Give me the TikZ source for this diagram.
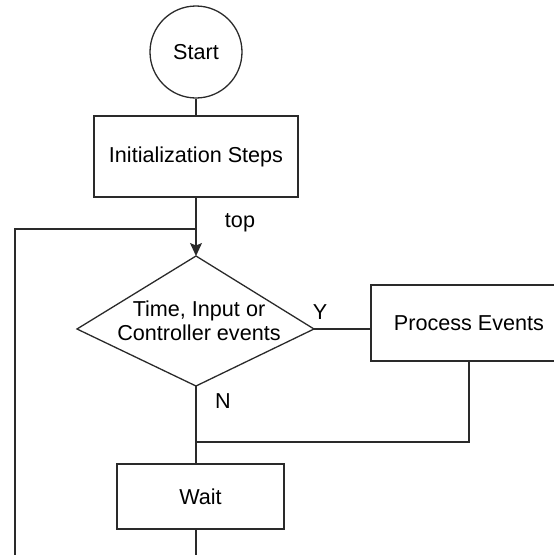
\documentclass[tikz,border=0pt]{standalone}
\usepackage{fontspec}
\setmainfont{Liberation Sans}
\usetikzlibrary{arrows.meta,calc}
\definecolor{linegray}{HTML}{2A2A2A}
\begin{document}
\begin{tikzpicture}[x=1pt,y=-1pt,
  conn/.style={draw=linegray, line width=1.3pt},
  box/.style={draw=linegray, line width=1.3pt, rectangle, inner sep=0pt,
    font=\fontsize{21.6}{24.5}\selectfont, text=black},
  startnode/.style={draw=linegray, line width=1.3pt, circle, inner sep=0pt,
    minimum size=92pt, font=\fontsize{21.6}{24.5}\selectfont},
  lbl/.style={inner sep=0pt, font=\fontsize{21.6}{24.5}\selectfont},
  tip/.style={-{Stealth[length=13pt,width=12pt,inset=2.5pt]}},
]
\useasboundingbox (0,0) rectangle (554,555);
% nodes
\node[startnode] (start) at (196,52) {Start};
\node[box, minimum width=204pt, minimum height=81pt] (init) at (196,156.5) {Initialization Steps};
\coordinate (dT) at (196,256);
\coordinate (dL) at (77,329);
\coordinate (dR) at (314,329);
\coordinate (dB) at (196,386);
\draw[conn] (dT) -- (dR) -- (dB) -- (dL) -- cycle;
\node[lbl, align=center] (dtext) at (199,321) {Time, Input or\\Controller events};
\node[box, minimum width=196pt, minimum height=76pt] (proc) at (469,323) {Process Events};
\node[box, minimum width=167pt, minimum height=65pt] (wait) at (200.5,496.5) {Wait};
% labels
\node[lbl] (toplbl) at (240,223) {top};
\node[lbl] (ylbl) at (320,312) {Y};
\node[lbl] (nlbl) at (223,401) {N};
% helper coordinates
\coordinate (loopj) at (196,229);
\coordinate (loopc) at (15,229);
\coordinate (loopb) at (15,560);
\coordinate (mj) at (196,442);
\coordinate (pj) at (469,442);
\coordinate (bot) at (196,560);
% connectors
\draw[conn] (start) -- (init);
\draw[conn, tip] (init.south) -- (dT);
\draw[conn] (loopb) -- (loopc) -- (loopj);
\draw[conn] (dR) -- (proc.west |- dR);
\draw[conn] (dB) -- (dB |- wait.north);
\draw[conn] (proc.south) -- (pj) -- (mj);
\draw[conn] (dB |- wait.south) -- (bot);
\end{tikzpicture}
\end{document}
